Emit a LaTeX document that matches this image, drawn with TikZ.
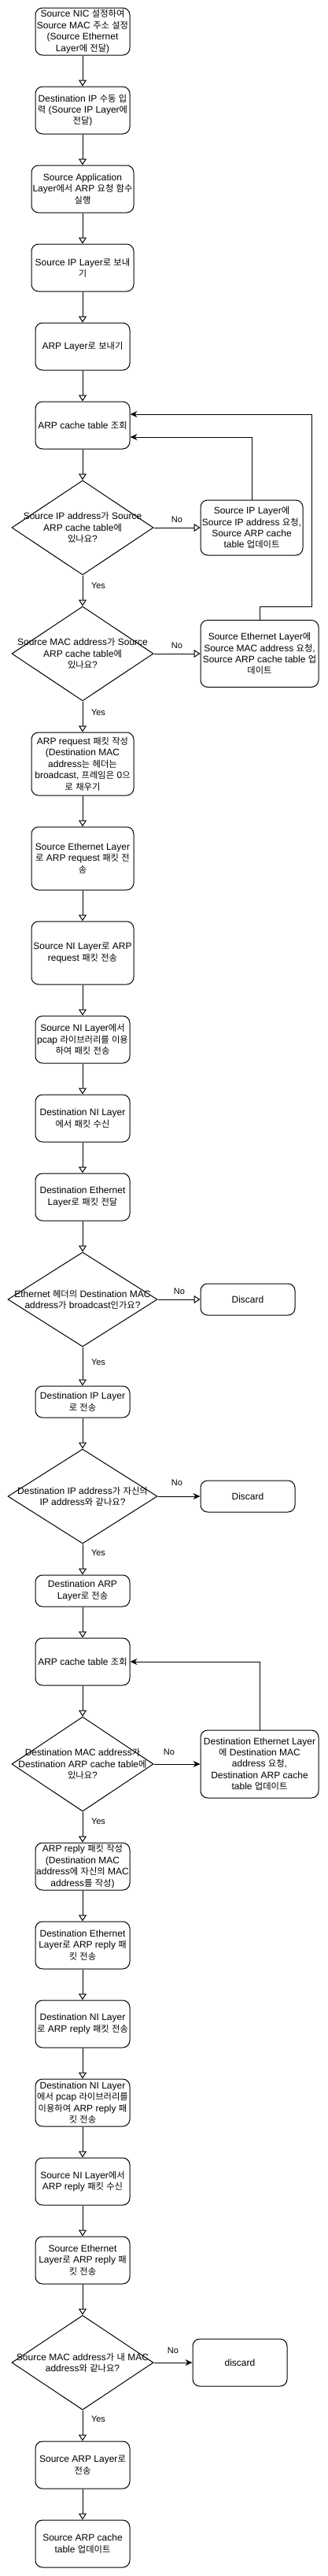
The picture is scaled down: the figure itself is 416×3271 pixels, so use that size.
\documentclass[tikz,border=0pt]{standalone}
\usepackage{fontspec}
\setmainfont{Liberation Sans}
\newfontfamily\krfont[Scale=0.94]{Noto Sans CJK KR}
\XeTeXinterchartokenstate=1
\newXeTeXintercharclass\krcls
\count255="AC00
\loop\XeTeXcharclass\count255=\krcls\ifnum\count255<"D7A3 \advance\count255 by 1 \repeat
\XeTeXinterchartoks 0 \krcls = {\begingroup\krfont}
\XeTeXinterchartoks 4095 \krcls = {\begingroup\krfont}
\XeTeXinterchartoks \krcls 0 = {\endgroup}
\XeTeXinterchartoks \krcls 4095 = {\endgroup}
\usetikzlibrary{arrows.meta,shapes.geometric}
\tikzset{
  box/.style={draw, rounded corners=9pt, align=center, inner sep=0pt, line width=1pt,
    font=\fontsize{12}{14.4}\selectfont},
  dia/.style={draw, diamond, inner sep=0pt, line width=1pt},
  dtext/.style={align=center, font=\fontsize{12}{14.4}\selectfont},
  lbl/.style={font=\fontsize{11}{13}\selectfont, inner sep=0pt},
  flow/.style={line width=1pt, -{Triangle[open,length=8pt,width=10pt]}},
  back/.style={line width=1pt, -{Stealth[length=9pt,width=8pt,inset=3pt]}},
}
\begin{document}
\begin{tikzpicture}[x=1pt,y=-1pt]
\fill[white] (0,0) rectangle (416,3271);
\useasboundingbox (0,0) rectangle (416,3271);

\node[box, minimum width=120pt, minimum height=60pt] (b1) at (105,40) {Source NIC 설정하여\\Source MAC 주소 설정\\(Source Ethernet\\Layer에 전달)};
\node[box, minimum width=120pt, minimum height=60pt] (b2) at (105,140) {Destination IP 수동 입\\력 (Source IP Layer에\\전달)};
\node[box, minimum width=130pt, minimum height=60pt] (b3) at (105,240) {Source Application\\Layer에서 ARP 요청 함수\\실행};
\node[box, minimum width=130pt, minimum height=60pt] (b4) at (105,340) {Source IP Layer로 보내\\기};
\node[box, minimum width=120pt, minimum height=60pt] (b5) at (105,440) {ARP Layer로 보내기};
\node[box, minimum width=120pt, minimum height=60pt] (b6) at (105,540) {ARP cache table 조회};
\node[dia, minimum width=180pt, minimum height=120pt, label={[dtext]center:Source IP address가 Source\\ARP cache table에\\있나요?}] (d1) at (105,670) {};
\node[box, minimum width=130pt, minimum height=70pt] (b7) at (320,670) {Source IP Layer에\\Source IP address 요청,\\Source ARP cache\\table 업데이트};
\node[dia, minimum width=180pt, minimum height=120pt, label={[dtext]center:Source MAC address가 Source\\ARP cache table에\\있나요?}] (d2) at (105,830) {};
\node[box, minimum width=150pt, minimum height=85pt] (b8) at (330,830) {Source Ethernet Layer에\\Source MAC address 요청,\\Source ARP cache table 업\\데이트};
\node[box, minimum width=130pt, minimum height=80pt] (b9) at (105,970) {ARP request 패킷 작성\\(Destination MAC\\address는 헤더는\\broadcast, 프레임은 0으\\로 채우기};
\node[box, minimum width=130pt, minimum height=80pt] (b10) at (105,1090) {Source Ethernet Layer\\로 ARP request 패킷 전\\송};
\node[box, minimum width=130pt, minimum height=80pt] (b11) at (105,1210) {Source NI Layer로 ARP\\request 패킷 전송};
\node[box, minimum width=120pt, minimum height=60pt] (b12) at (105,1320) {Source NI Layer에서\\pcap 라이브러리를 이용\\하여 패킷 전송};
\node[box, minimum width=120pt, minimum height=60pt] (b13) at (105,1420) {Destination NI Layer\\에서 패킷 수신};
\node[box, minimum width=120pt, minimum height=60pt] (b14) at (105,1520) {Destination Ethernet\\Layer로 패킷 전달};
\node[dia, minimum width=190pt, minimum height=120pt, label={[dtext]center:Ethernet 헤더의 Destination MAC\\address가 broadcast인가요?}] (d3) at (105,1650) {};
\node[box, minimum width=120pt, minimum height=40pt] (x1) at (315,1650) {Discard};
\node[box, minimum width=120pt, minimum height=40pt] (b15) at (105,1780) {Destination IP Layer\\로 전송};
\node[dia, minimum width=190pt, minimum height=120pt, label={[dtext]center:Destination IP address가 자신의\\IP address와 같나요?}] (d4) at (105,1900) {};
\node[box, minimum width=120pt, minimum height=40pt] (x2) at (315,1900) {Discard};
\node[box, minimum width=120pt, minimum height=40pt] (b16) at (105,2020) {Destination ARP\\Layer로 전송};
\node[box, minimum width=120pt, minimum height=60pt] (b17) at (105,2110) {ARP cache table 조회};
\node[dia, minimum width=180pt, minimum height=120pt, label={[dtext]center:Destination MAC address가\\Destination ARP cache table에\\있나요?}] (d5) at (105,2240) {};
\node[box, minimum width=150pt, minimum height=86pt] (b18) at (330,2240) {Destination Ethernet Layer\\에 Destination MAC\\address 요청,\\Destination ARP cache\\table 업데이트};
\node[box, minimum width=120pt, minimum height=60pt] (b19) at (105,2370) {ARP reply 패킷 작성\\(Destination MAC\\address에 자신의 MAC\\address를 작성)};
\node[box, minimum width=120pt, minimum height=60pt] (b20) at (105,2470) {Destination Ethernet\\Layer로 ARP reply 패\\킷 전송};
\node[box, minimum width=120pt, minimum height=60pt] (b21) at (105,2570) {Destination NI Layer\\로 ARP reply 패킷 전송};
\node[box, minimum width=120pt, minimum height=60pt] (b22) at (105,2670) {Destination NI Layer\\에서 pcap 라이브러리를\\이용하여 ARP reply 패\\킷 전송};
\node[box, minimum width=120pt, minimum height=60pt] (b23) at (105,2770) {Source NI Layer에서\\ARP reply 패킷 수신};
\node[box, minimum width=120pt, minimum height=60pt] (b24) at (105,2870) {Source Ethernet\\Layer로 ARP reply 패\\킷 전송};
\node[dia, minimum width=180pt, minimum height=120pt, label={[dtext]center:Source MAC address가 내 MAC\\address와 같나요?}] (d6) at (105,3000) {};
\node[box, minimum width=120pt, minimum height=60pt] (x3) at (305,3000) {discard};
\node[box, minimum width=120pt, minimum height=60pt] (b25) at (105,3130) {Source ARP Layer로\\전송};
\node[box, minimum width=120pt, minimum height=60pt] (b26) at (105,3230) {Source ARP cache\\table 업데이트};

% main vertical flow
\draw[flow] (b1.south) -- (b2.north);
\draw[flow] (b2.south) -- (b3.north);
\draw[flow] (b3.south) -- (b4.north);
\draw[flow] (b4.south) -- (b5.north);
\draw[flow] (b5.south) -- (b6.north);
\draw[flow] (b6.south) -- (d1.north);
\draw[flow] (d1.south) -- (d2.north) node[lbl] at (125,744) {Yes};
\draw[flow] (d1.east) -- (b7.west) node[lbl] at (225,660) {No};
\draw[flow] (d2.south) -- (b9.north) node[lbl] at (125,905) {Yes};
\draw[flow] (d2.east) -- (b8.west) node[lbl] at (225,820) {No};
\draw[flow] (b9.south) -- (b10.north);
\draw[flow] (b10.south) -- (b11.north);
\draw[flow] (b11.south) -- (b12.north);
\draw[flow] (b12.south) -- (b13.north);
\draw[flow] (b13.south) -- (b14.north);
\draw[flow] (b14.south) -- (d3.north);
\draw[flow] (d3.east) -- (x1.west) node[lbl] at (228,1640) {No};
\draw[flow] (d3.south) -- (b15.north) node[lbl] at (125,1730) {Yes};
\draw[flow] (b15.south) -- (d4.north);
\draw[back] (d4.east) -- (x2.west) node[lbl] at (225,1883) {No};
\draw[flow] (d4.south) -- (b16.north) node[lbl] at (125,1972) {Yes};
\draw[flow] (b16.south) -- (b17.north);
\draw[flow] (b17.south) -- (d5.north);
\draw[back] (d5.east) -- (b18.west) node[lbl] at (215,2225) {No};
\draw[flow] (d5.south) -- (b19.north) node[lbl] at (125,2313) {Yes};
\draw[flow] (b19.south) -- (b20.north);
\draw[flow] (b20.south) -- (b21.north);
\draw[flow] (b21.south) -- (b22.north);
\draw[flow] (b22.south) -- (b23.north);
\draw[flow] (b23.south) -- (b24.north);
\draw[flow] (b24.south) -- (d6.north);
\draw[back] (d6.east) -- (x3.west) node[lbl] at (220,2985) {No};
\draw[flow] (d6.south) -- (b25.north) node[lbl] at (125,3072) {Yes};
\draw[flow] (b25.south) -- (b26.north);

% feedback loops
\coordinate (r1) at (396,770);
\coordinate (r2) at (396,526);
\draw[back] (b7.north) |- ([yshift=-15pt]b6.east);
\draw[back] (b8.north) |- (r1) -- (r2) -- ([yshift=14pt]b6.east);
\draw[back] (b18.north) |- (b17.east);
\end{tikzpicture}
\end{document}
